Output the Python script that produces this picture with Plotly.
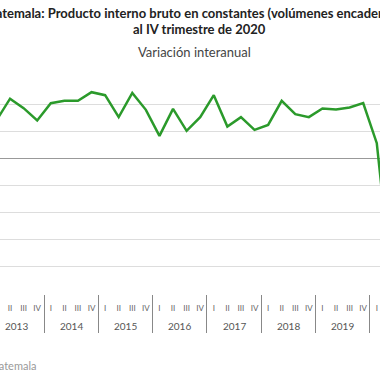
import plotly.graph_objects as go

years = ["2013", "2014", "2015", "2016", "2017", "2018", "2019", "2020"]
quarters = ["I", "II", "III", "IV"]
variacion = [2.8, 4.4, 3.7, 2.8,
             4.07, 4.24, 4.24, 4.88,
             4.66, 3.04, 4.83, 3.58,
             1.66, 3.65, 2.03, 3.04,
             4.66, 2.35, 3.04, 2.10,
             2.47, 4.24, 3.26, 3.04,
             3.68, 3.60, 3.75, 4.07,
             1.12, -8.3, -2.0, 3.0]

title1 = "<b>Guatemala: Producto interno bruto en constantes (volúmenes encadenados)</b>"
title2 = "<b>al IV trimestre de 2020</b>"
subtitle = "Variación interanual"
source = "Fuente: Banco de Guatemala"

nq = len(quarters)
xidx = list(range(len(variacion)))
qlabels = [quarters[i % nq] for i in xidx]

fig = go.Figure()
fig.add_trace(go.Scatter(
    x=xidx, y=variacion, mode="lines",
    line=dict(color="#2b9a2b", width=2.5),
))

W = 380.0
font = "Lato"
TOP, BOT = 77, 294
ph = BOT - TOP

def py(p):
    return (BOT - p) / ph

annotations = [
    dict(text=title1, x=198 / W, y=py(13), xref="paper", yref="paper", showarrow=False,
         xanchor="center", yanchor="middle", font=dict(size=13, color="#222222", family=font)),
    dict(text=title2, x=199 / W, y=py(29), xref="paper", yref="paper", showarrow=False,
         xanchor="center", yanchor="middle", font=dict(size=13, color="#222222", family=font)),
    dict(text=subtitle, x=194 / W, y=py(52), xref="paper", yref="paper", showarrow=False,
         xanchor="center", yanchor="middle", font=dict(size=13, color="#444444", family=font)),
    dict(text=source, x=39 / W, y=py(365), xref="paper", yref="paper", showarrow=False,
         xanchor="right", yanchor="middle", font=dict(size=11, color="#999999", family=font)),
]
for k, yr in enumerate(years):
    annotations.append(dict(
        text=yr, x=k * nq + (nq - 1) / 2, y=py(326), xref="x", yref="paper", showarrow=False,
        xanchor="center", yanchor="middle", font=dict(size=10, color="#555555", family=font)))

fig.update_layout(
    width=380, height=380,
    margin=dict(l=0, r=0, t=TOP, b=380 - BOT),
    paper_bgcolor="white", plot_bgcolor="white",
    showlegend=False,
    font=dict(family=font, color="#555555"),
    annotations=annotations,
)

fig.update_xaxes(
    range=[0.261, 28.237], automargin=False,
    tickmode="array", tickvals=xidx, ticktext=qlabels, tickangle=0,
    showgrid=False, zeroline=False, ticks="", showline=False,
    ticklabelstandoff=8,
    tickfont=dict(size=8, color="#666666", family=font),
    minor=dict(ticks="outside", tick0=nq - 0.5, dtick=nq, ticklen=38,
               tickcolor="#888888", tickwidth=1, showgrid=False),
)
fig.update_yaxes(
    range=[-10, 6], dtick=2, showgrid=True, gridcolor="#dddddd", gridwidth=1,
    zeroline=True, zerolinecolor="#999999", zerolinewidth=1,
    showticklabels=False, ticks="", showline=False, automargin=False,
)

fig.write_html("out.html", config={"displayModeBar": False},
               post_script="document.body.style.margin='0';document.body.style.overflow='hidden';")
